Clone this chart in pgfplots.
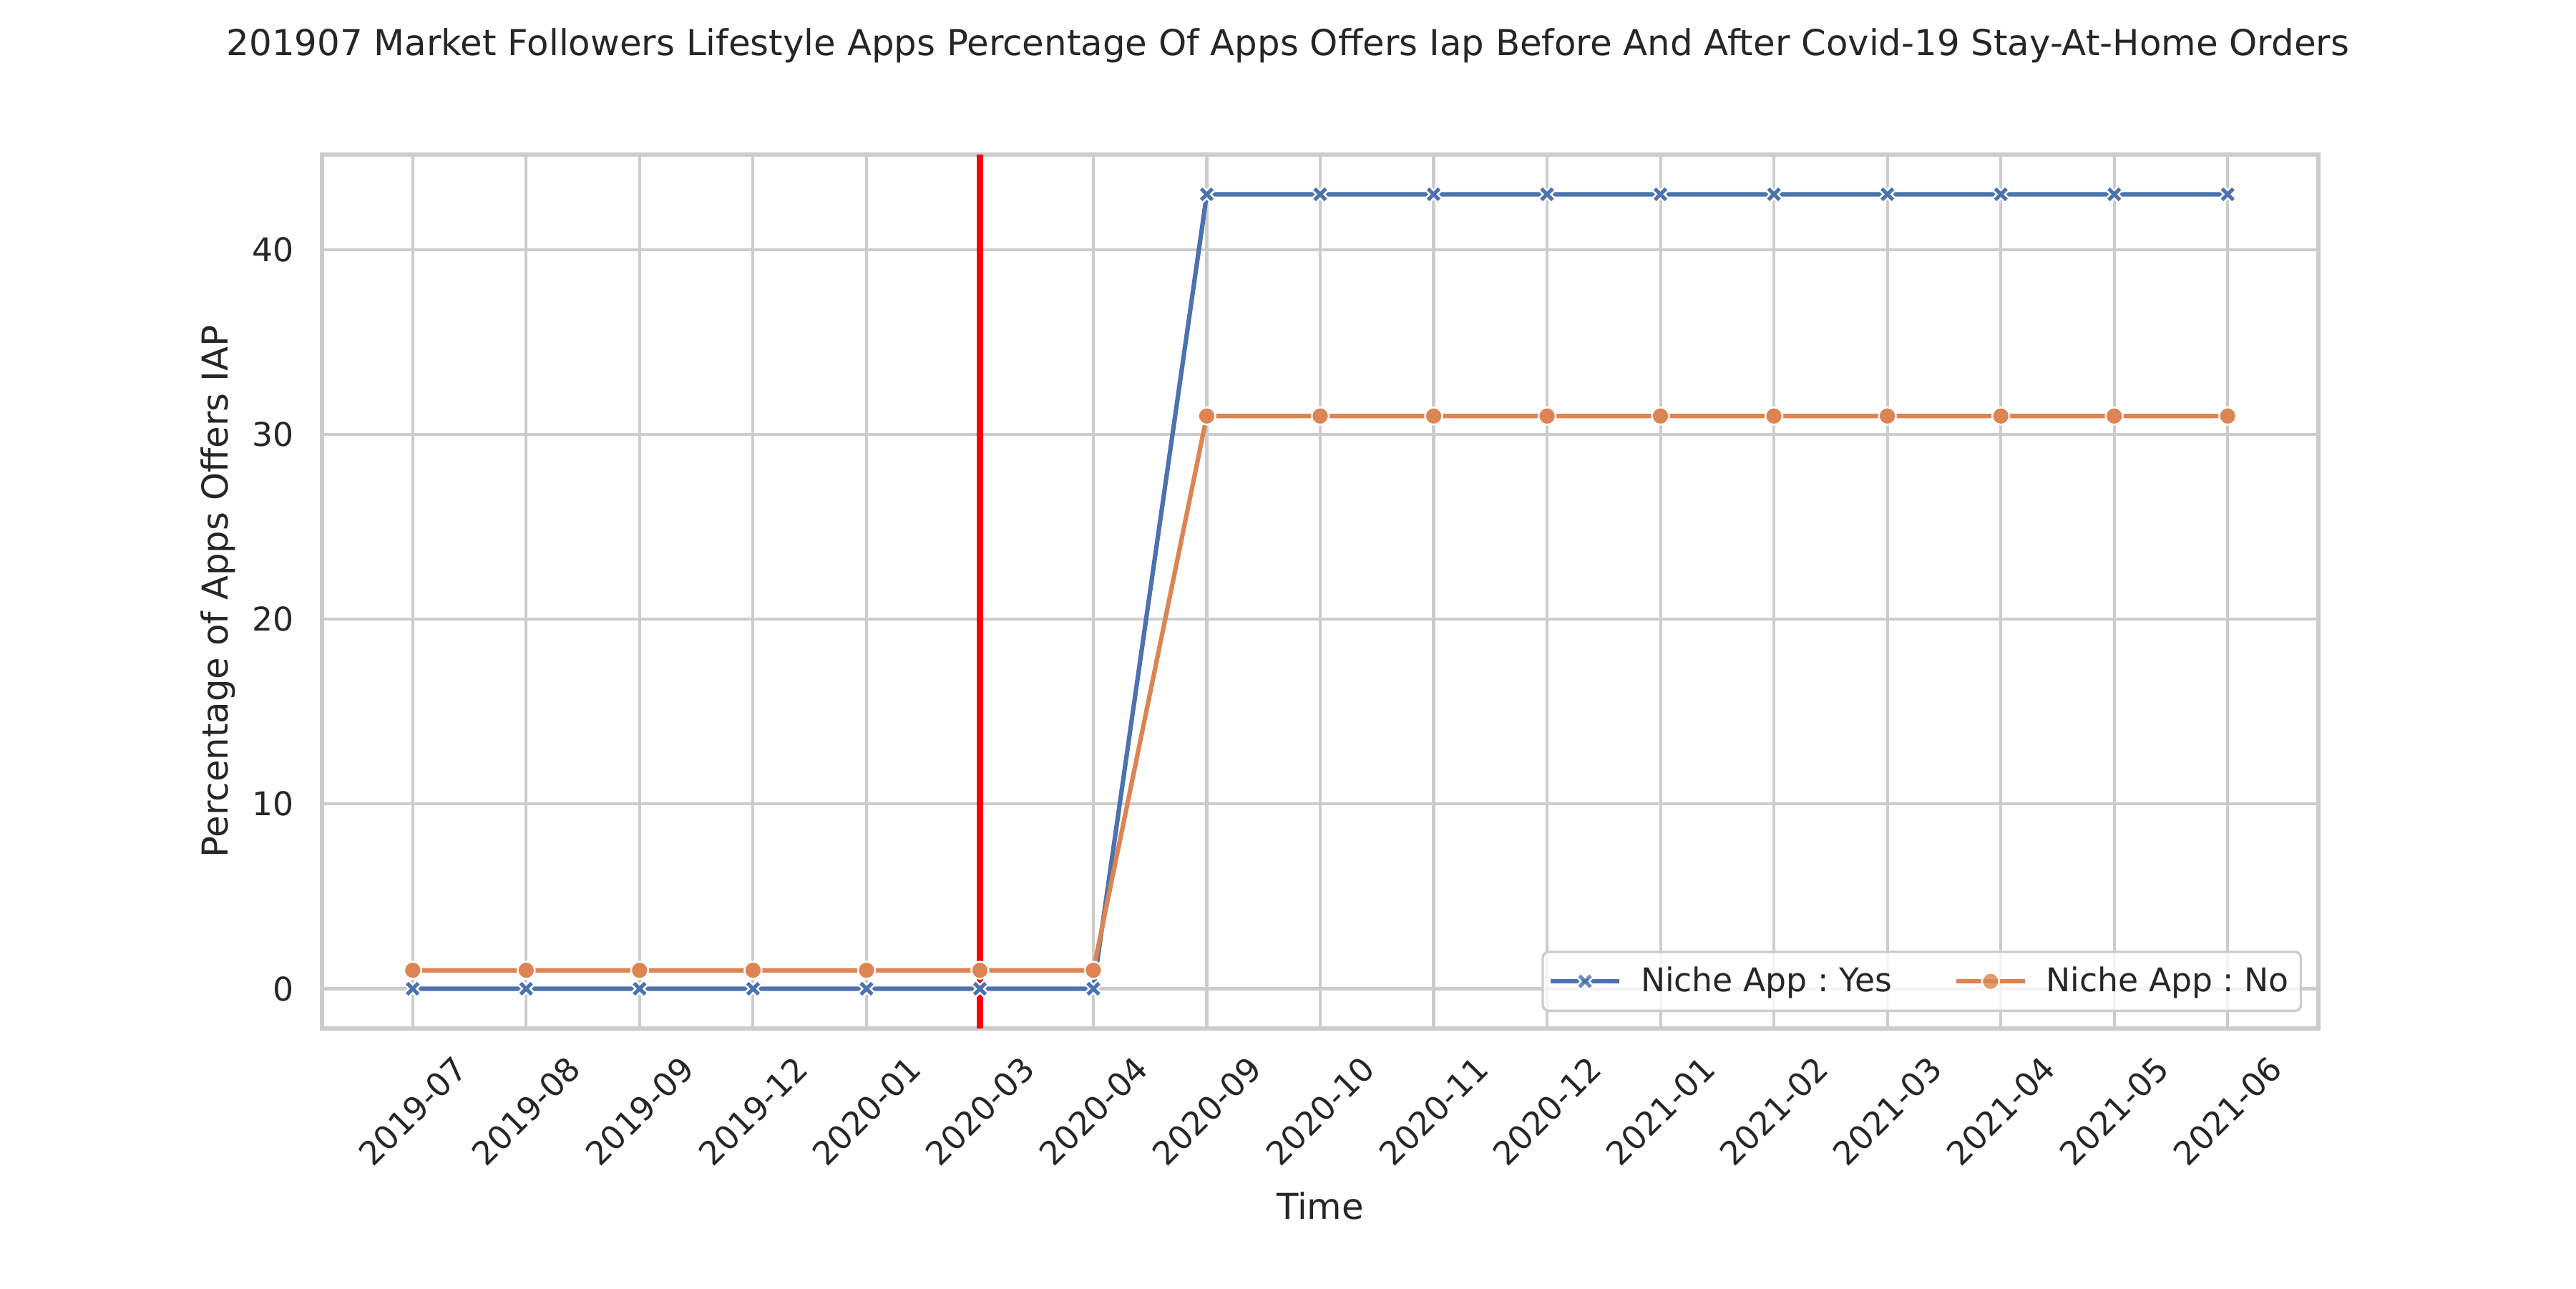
\documentclass[border=0pt]{standalone}
\usepackage{pgfplots}
\pgfplotsset{compat=1.18}
\usepackage{fontspec}
\setmainfont{DejaVu Sans}
\frenchspacing
\definecolor{sbblue}{HTML}{4C72B0}
\definecolor{sborange}{HTML}{DD8452}
\definecolor{gridgray}{HTML}{CCCCCC}
\definecolor{txt}{HTML}{262626}
\pgfdeclareplotmark{X}{%
  \pgftransformrotate{45}%
  \pgfpathmoveto{\pgfpoint{0.32\pgfplotmarksize}{\pgfplotmarksize}}%
  \pgfpathlineto{\pgfpoint{-0.32\pgfplotmarksize}{\pgfplotmarksize}}%
  \pgfpathlineto{\pgfpoint{-0.32\pgfplotmarksize}{0.32\pgfplotmarksize}}%
  \pgfpathlineto{\pgfpoint{-\pgfplotmarksize}{0.32\pgfplotmarksize}}%
  \pgfpathlineto{\pgfpoint{-\pgfplotmarksize}{-0.32\pgfplotmarksize}}%
  \pgfpathlineto{\pgfpoint{-0.32\pgfplotmarksize}{-0.32\pgfplotmarksize}}%
  \pgfpathlineto{\pgfpoint{-0.32\pgfplotmarksize}{-\pgfplotmarksize}}%
  \pgfpathlineto{\pgfpoint{0.32\pgfplotmarksize}{-\pgfplotmarksize}}%
  \pgfpathlineto{\pgfpoint{0.32\pgfplotmarksize}{-0.32\pgfplotmarksize}}%
  \pgfpathlineto{\pgfpoint{\pgfplotmarksize}{-0.32\pgfplotmarksize}}%
  \pgfpathlineto{\pgfpoint{\pgfplotmarksize}{0.32\pgfplotmarksize}}%
  \pgfpathlineto{\pgfpoint{0.32\pgfplotmarksize}{0.32\pgfplotmarksize}}%
  \pgfpathclose
  \pgfusepathqfillstroke
}
\begin{document}
\begin{tikzpicture}
\path[use as bounding box] (0,0) rectangle (12in,6in);
\node[text=txt, font=\fontsize{12}{14}\selectfont] at (6in,5.787in) {201907 Market Followers Lifestyle Apps Percentage Of Apps Offers Iap Before And After Covid-19 Stay-At-Home Orders};
\begin{axis}[
  at={(1.5in,1.21in)}, anchor=south west,
  scale only axis, width=9.3in, height=4.07in,
  xmin=-0.8, xmax=16.8, ymin=-2.15, ymax=45.15,
  xtick={0,...,16},
  xticklabels={2019-07,2019-08,2019-09,2019-12,2020-01,2020-03,2020-04,2020-09,2020-10,2020-11,2020-12,2021-01,2021-02,2021-03,2021-04,2021-05,2021-06},
  ytick={0,10,20,30,40},
  /pgf/number format/assume math mode=true,
  major tick length=0pt,
  grid=major,
  major grid style={gridgray, line width=1pt},
  axis line style={gridgray, line width=1.25pt},
  tick label style={text=txt, font=\fontsize{11}{13}\selectfont},
  xticklabel style={yshift=-27.8pt, rotate=45, anchor=center},
  yticklabel style={xshift=-6pt},
  xlabel={Time},
  ylabel={Percentage of Apps Offers IAP},
  label style={text=txt, font=\fontsize{12}{14}\selectfont},
  xlabel style={at={(axis description cs:0.5,-0.203)}, anchor=center},
  ylabel style={at={(axis description cs:-0.052,0.5)}, anchor=center},
  legend columns=2,
  legend cell align=left,
  legend style={at={(0.9918,0.0188)}, anchor=south east, draw=gridgray, line width=0.8pt, rounded corners=2pt, fill=white, fill opacity=0.8, text opacity=1, font=\fontsize{11}{13}\selectfont, text=txt, inner xsep=2pt, inner ysep=3pt,
    /tikz/every odd column/.append style={column sep=4.5pt},
    /tikz/every even column/.append style={column sep=19pt}},
  legend image code/.code={\draw[mark repeat=2,mark phase=2] plot coordinates {(0pt,0pt)(11.5pt,0pt)(23pt,0pt)};},
]
\addplot[sbblue, line width=1.5pt, mark=X, mark size=3pt, mark options={fill=sbblue, draw=white, line width=0.6pt}]
  coordinates {(0,0)(1,0)(2,0)(3,0)(4,0)(5,0)(6,0)(7,43)(8,43)(9,43)(10,43)(11,43)(12,43)(13,43)(14,43)(15,43)(16,43)};
\addlegendentry{Niche App : Yes}
\addplot[sborange, line width=1.5pt, mark=*, mark size=2.9pt, mark options={fill=sborange, draw=white, line width=0.6pt}]
  coordinates {(0,1)(1,1)(2,1)(3,1)(4,1)(5,1)(6,1)(7,31)(8,31)(9,31)(10,31)(11,31)(12,31)(13,31)(14,31)(15,31)(16,31)};
\addlegendentry{Niche App : No}
\addplot[red, line width=2pt, forget plot] coordinates {(5,-2.15)(5,45.15)};
\end{axis}
\end{tikzpicture}
\end{document}
